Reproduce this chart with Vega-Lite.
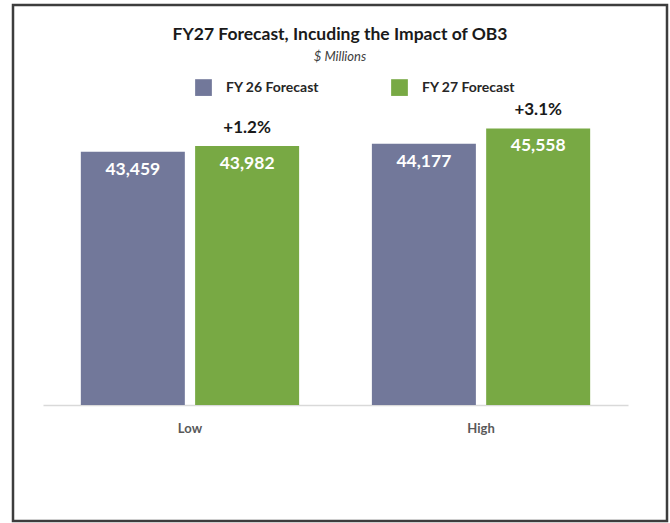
{
  "$schema": "https://vega.github.io/schema/vega-lite/v6.json",
  "width": 654,
  "height": 516,
  "autosize": {"type": "none"},
  "padding": {"left": 13, "top": 5, "right": 3, "bottom": 2},
  "background": "white",
  "config": {"view": {"stroke": "#3d3d3d", "strokeWidth": 2.5}, "font": "Lato"},
  "title": {
    "text": "FY27 Forecast, Incuding the Impact of OB3",
    "subtitle": "$ Millions",
    "anchor": "middle",
    "offset": -59,
    "font": "Lato",
    "fontSize": 17.5,
    "fontWeight": "bold",
    "color": "#1a1a1a",
    "subtitleFont": "Lato",
    "subtitleFontStyle": "italic",
    "subtitleFontSize": 13,
    "subtitleColor": "#404040",
    "subtitlePadding": 8
  },
  "data": {
    "values": [
      {"scenario": "Low", "series": "FY 26 Forecast", "value": 43459},
      {"scenario": "Low", "series": "FY 27 Forecast", "value": 43982, "change": "+1.2%"},
      {"scenario": "High", "series": "FY 26 Forecast", "value": 44177},
      {"scenario": "High", "series": "FY 27 Forecast", "value": 45558, "change": "+3.1%"}
    ]
  },
  "encoding": {
    "x": {
      "field": "scenario",
      "type": "nominal",
      "sort": ["Low", "High"],
      "scale": {"range": [30, 615], "paddingInner": 0.25, "paddingOuter": 0.13},
      "axis": {
        "title": null,
        "orient": "bottom",
        "offset": -116,
        "ticks": false,
        "domainColor": "#d9d9d9",
        "domainWidth": 1.5,
        "labelAngle": 0,
        "labelFont": "Lato",
        "labelFontSize": 13,
        "labelFontWeight": "bold",
        "labelColor": "#595959",
        "labelPadding": 17
      }
    },
    "xOffset": {
      "field": "series",
      "type": "nominal",
      "sort": ["FY 26 Forecast", "FY 27 Forecast"],
      "scale": {"paddingInner": 0.09}
    },
    "y": {
      "field": "value",
      "type": "quantitative",
      "scale": {"domain": [20750, 46500], "range": [400, 112.9], "zero": false, "nice": false},
      "axis": null
    }
  },
  "layer": [
    {
      "mark": {"type": "bar"},
      "encoding": {
        "y2": {"datum": 20750},
        "color": {
          "field": "series",
          "type": "nominal",
          "scale": {"domain": ["FY 26 Forecast", "FY 27 Forecast"], "range": ["#72789a", "#78a944"]},
          "legend": {
            "orient": "none",
            "legendX": 182,
            "legendY": 74,
            "direction": "horizontal",
            "title": null,
            "symbolType": "square",
            "symbolSize": 280,
            "symbolStrokeWidth": 0,
            "labelFont": "Lato",
            "labelFontSize": 14,
            "labelFontWeight": "bold",
            "labelColor": "#262626",
            "labelOffset": 14,
            "columnPadding": 71,
            "labelLimit": 300
          }
        }
      }
    },
    {
      "mark": {"type": "text", "color": "white", "fontWeight": "bold", "fontSize": 17.5, "baseline": "middle", "dy": 18},
      "encoding": {"text": {"field": "value", "type": "quantitative", "format": ","}}
    },
    {
      "transform": [{"filter": "datum.change != null"}],
      "mark": {"type": "text", "color": "#1a1a1a", "fontWeight": "bold", "fontSize": 17, "baseline": "middle", "dy": -18},
      "encoding": {"text": {"field": "change", "type": "nominal"}}
    }
  ]
}
